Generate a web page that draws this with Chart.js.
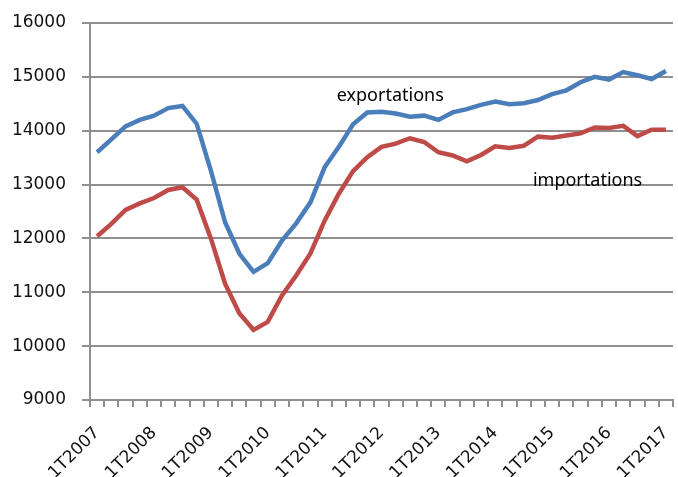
<!DOCTYPE html>
<html>
<head>
<meta charset="utf-8">
<script src="https://cdn.jsdelivr.net/npm/chart.js@4"></script>
<style>
html, body { margin: 0; padding: 0; background: #fff; }
</style>
</head>
<body>
<canvas id="chart" width="678" height="477"></canvas>
<script>
const quarters = [
    '1T2007', '2T2007', '3T2007', '4T2007',
    '1T2008', '2T2008', '3T2008', '4T2008',
    '1T2009', '2T2009', '3T2009', '4T2009',
    '1T2010', '2T2010', '3T2010', '4T2010',
    '1T2011', '2T2011', '3T2011', '4T2011',
    '1T2012', '2T2012', '3T2012', '4T2012',
    '1T2013', '2T2013', '3T2013', '4T2013',
    '1T2014', '2T2014', '3T2014', '4T2014',
    '1T2015', '2T2015', '3T2015', '4T2015',
    '1T2016', '2T2016', '3T2016', '4T2016',
    '1T2017'
];

const exportations = [
    13600, 13840, 14080, 14200, 14280, 14420, 14460, 14130,
    13260, 12300, 11720, 11380, 11540, 11960, 12280, 12670,
    13320, 13700, 14120, 14340, 14350, 14320, 14260, 14280,
    14200, 14340, 14400, 14480, 14540, 14490, 14510, 14570,
    14680, 14750, 14900, 15000, 14950, 15090, 15030, 14960,
    15110
];

const importations = [
    12040, 12270, 12530, 12650, 12750, 12900, 12950, 12720,
    12000, 11160, 10610, 10300, 10450, 10940, 11310, 11720,
    12330, 12830, 13250, 13510, 13700, 13760, 13860, 13790,
    13600, 13540, 13430, 13550, 13710, 13680, 13720, 13890,
    13870, 13910, 13950, 14060, 14050, 14090, 13900, 14020,
    14020
];

const seriesNames = ['exportations', 'importations'];

// where each series name is written, in (quarter index, value)
const nameSpots = [[16.85, 14650], [30.65, 13075]];

const gridGray = '#8f8f8f';
const tickFont = { family: '"DejaVu Sans"', size: 17 };

// write the series names next to their lines
const seriesLabels = {
    id: 'seriesLabels',
    afterDatasetsDraw(chart) {
        const ctx = chart.ctx;
        const x = chart.scales.x;
        const y = chart.scales.y;
        ctx.save();
        ctx.font = '18px "Noto Sans"';
        ctx.fillStyle = '#000';
        ctx.textAlign = 'left';
        ctx.textBaseline = 'middle';
        for (let i = 0; i < seriesNames.length; i++) {
            ctx.fillText(seriesNames[i], x.getPixelForValue(nameSpots[i][0]), y.getPixelForValue(nameSpots[i][1]));
        }
        ctx.restore();
    }
};

new Chart(document.getElementById('chart'), {
    type: 'line',
    data: {
        labels: quarters,
        datasets: [{
            label: seriesNames[0],
            data: exportations,
            borderColor: '#4A7EBB',
            borderWidth: 4.5,
            pointRadius: 0,
            tension: 0
        }, {
            label: seriesNames[1],
            data: importations,
            borderColor: '#BE4B48',
            borderWidth: 4.5,
            pointRadius: 0,
            tension: 0
        }]
    },
    options: {
        responsive: false,
        animation: false,
        layout: {
            padding: { top: 23, right: 5, left: 0, bottom: 0 }
        },
        plugins: {
            legend: { display: false },
            tooltip: { enabled: false }
        },
        scales: {
            x: {
                offset: true,
                grid: {
                    offset: true,
                    drawOnChartArea: false,
                    drawTicks: true,
                    tickLength: 7,
                    color: gridGray,
                    lineWidth: 2
                },
                border: { display: true, color: gridGray, width: 2 },
                ticks: {
                    autoSkip: false,
                    maxRotation: 45,
                    minRotation: 45,
                    padding: 16,
                    color: '#111',
                    font: tickFont,
                    callback: function (value) {
                        const label = this.getLabelForValue(value);
                        return label.startsWith('1T') ? label : '';
                    }
                },
                afterFit: function (scale) {
                    scale.height = 77;
                    scale.paddingLeft = 0;
                    scale.paddingRight = 0;
                }
            },
            y: {
                min: 9000,
                max: 16000,
                grid: {
                    color: gridGray,
                    lineWidth: 2,
                    drawTicks: true,
                    tickLength: 8
                },
                border: { display: true, color: gridGray, width: 2 },
                ticks: {
                    stepSize: 1000,
                    padding: 16,
                    color: '#111',
                    font: tickFont,
                    callback: function (value) {
                        return String(value);
                    }
                },
                afterFit: function (scale) {
                    scale.width = 90;
                    scale.paddingTop = 0;
                    scale.paddingBottom = 0;
                }
            }
        }
    },
    plugins: [seriesLabels]
});
</script>
</body>
</html>
